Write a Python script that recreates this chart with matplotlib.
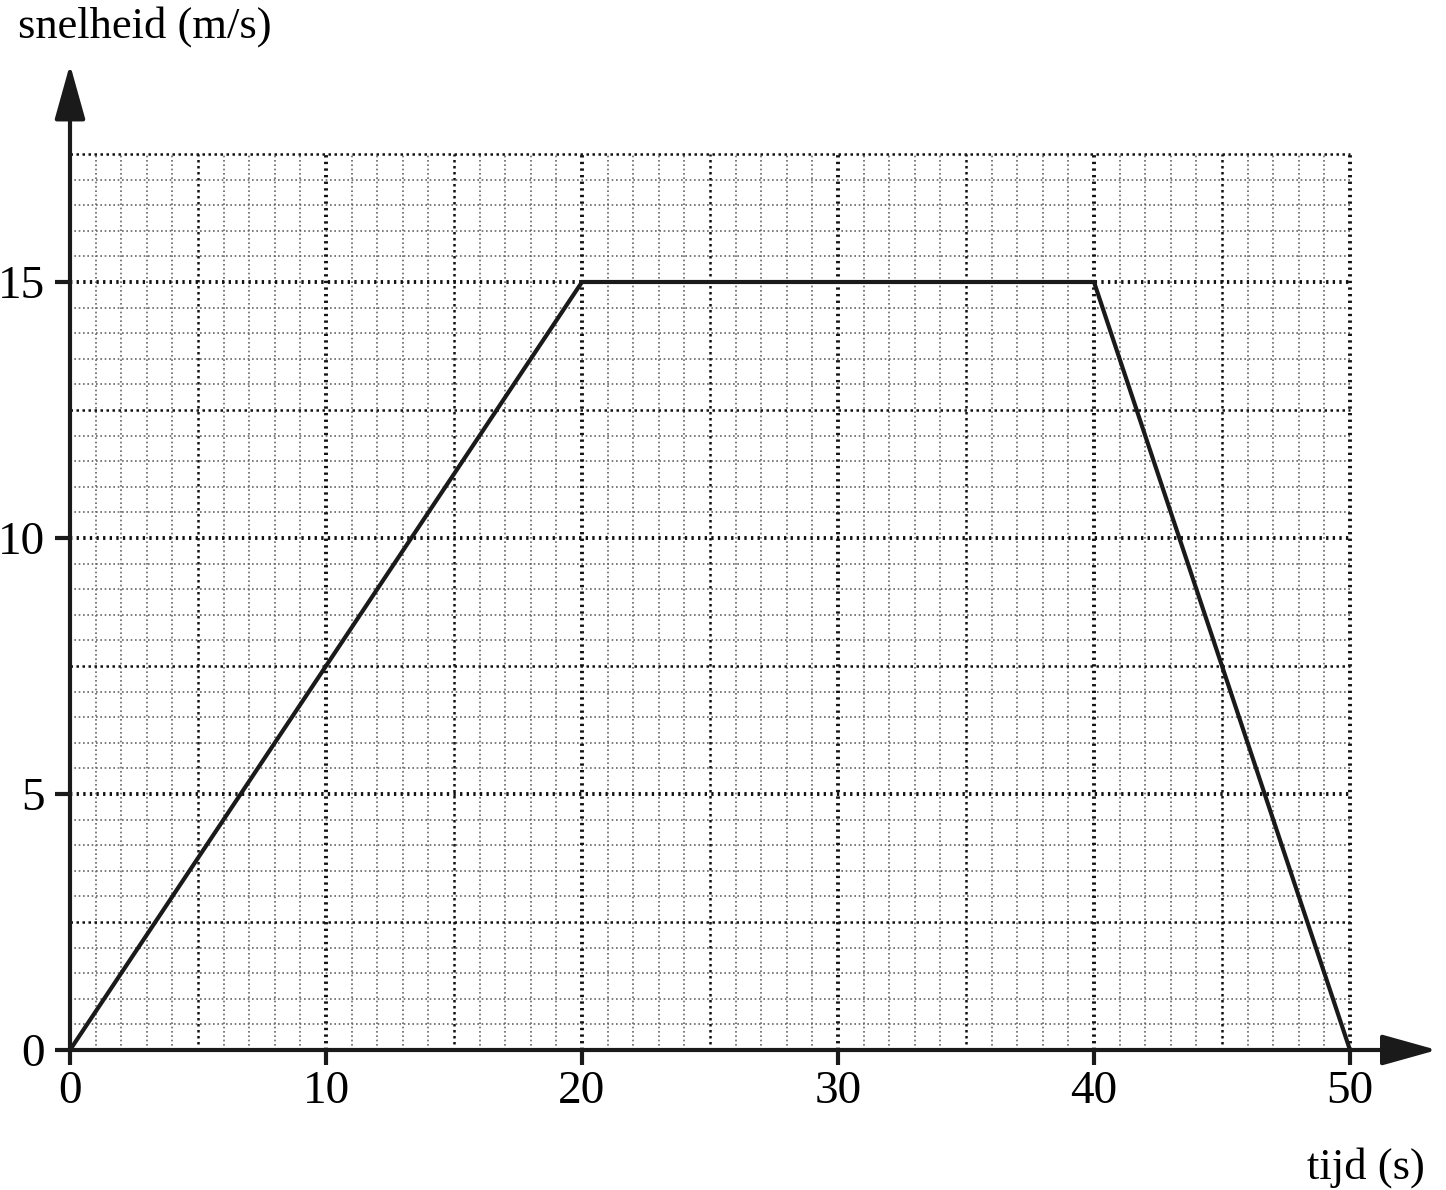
import matplotlib
matplotlib.use("Agg")
import matplotlib.pyplot as plt
import numpy as np

# data
tijd = [0, 20, 40, 50]
snelheid = [0, 15, 15, 0]
x_ticks = [0, 10, 20, 30, 40, 50]
y_ticks = [0, 5, 10, 15]
x_label = "tijd (s)"
y_label = "snelheid (m/s)"
grid_xmax = 50
grid_ymax = 17.5

W, H = 1446, 1190
fig = plt.figure(figsize=(W / 100, H / 100), dpi=100)
plt.rcParams['font.family'] = ['Liberation Serif', 'DejaVu Serif']

px_x = 25.6  # pixels per second
px_y = 51.2  # pixels per m/s
xmax = 53.4
ymax = 19.25
left, bottom = 70 / W, 140 / H
ax = fig.add_axes([left, bottom, xmax * px_x / W, ymax * px_y / H])
ax.set_xlim(0, xmax)
ax.set_ylim(0, ymax)
for s in ax.spines.values():
    s.set_visible(False)

# grid
xs = np.arange(1, grid_xmax + 1)
ys = np.arange(0.5, grid_ymax + 0.01, 0.5)
major = dict(colors='#111111', lw=2.8, linestyles=(0, (0.6, 1.1)))
medium = dict(colors='#111111', lw=1.8, linestyles=(0, (1, 1.4)))
minor = dict(colors='#666666', lw=1.2, linestyles=(0, (1, 1.6)))
for x in xs:
    if x % 10 == 0:
        ax.vlines(x, 0, grid_ymax, zorder=2, **major)
    elif x % 5 == 0:
        ax.vlines(x, 0, grid_ymax, zorder=1.5, **medium)
    else:
        ax.vlines(x, 0, grid_ymax, zorder=1, **minor)
for y in ys:
    if abs(y % 5) < 1e-9:
        ax.hlines(y, 0, grid_xmax, zorder=2, **major)
    elif abs(y % 2.5) < 1e-9:
        ax.hlines(y, 0, grid_xmax, zorder=1.5, **medium)
    else:
        ax.hlines(y, 0, grid_xmax, zorder=1, **minor)

# data line
ax.plot(tijd, snelheid, color='#1a1a1a', lw=3.0, zorder=4, solid_joinstyle='miter')

# axes with arrows
ap = dict(arrowstyle='-|>,head_length=3.4,head_width=0.95', mutation_scale=10,
          lw=3, color='#1a1a1a', shrinkA=0, shrinkB=0)
ax.annotate('', xy=(xmax, 0), xytext=(0, 0), arrowprops=ap, annotation_clip=False, zorder=5)
ax.annotate('', xy=(0, ymax), xytext=(0, 0), arrowprops=ap, annotation_clip=False, zorder=5)

ax.set_xticks(x_ticks)
ax.set_yticks(y_ticks)
ax.tick_params(axis='both', direction='out', length=11, width=3, color='#1a1a1a',
               labelsize=34)
ax.tick_params(axis='x', pad=4)
ax.tick_params(axis='y', pad=7)

fig.text(18 / W, 1 - 27 / H, y_label, fontsize=32, va='center', ha='left')
fig.text(1425 / W, 1 - 1168 / H, x_label, fontsize=32, va='center', ha='right')

fig.savefig("out.png", dpi=100)
